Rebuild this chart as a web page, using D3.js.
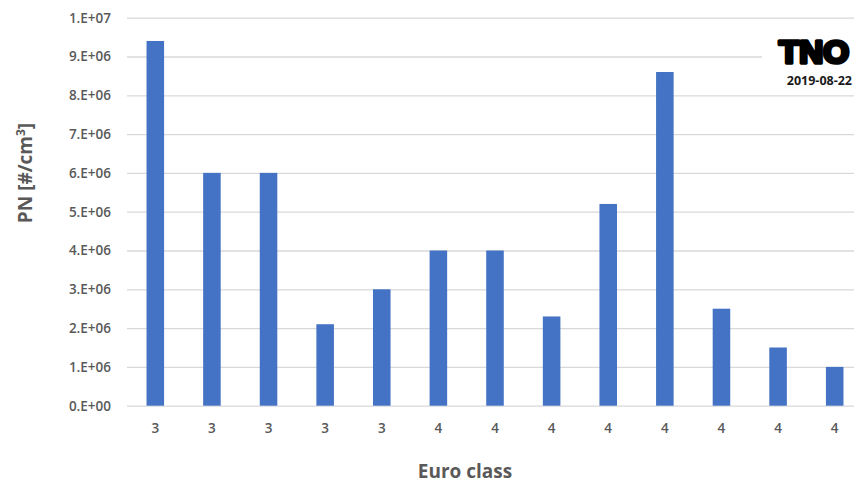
<!DOCTYPE html>
<html>
<head>
<meta charset="utf-8">
<script src="https://cdn.jsdelivr.net/npm/d3@7"></script>
<style>
  html, body { margin: 0; padding: 0; background: #fff; }
  svg { display: block; }
</style>
</head>
<body>
<svg id="chart" width="854" height="483"></svg>
<script>
// Euro class of each measured vehicle and its particle number concentration
const euroClass = ["3", "3", "3", "3", "3", "4", "4", "4", "4", "4", "4", "4", "4"];
const pnValues = [9.4e6, 6.0e6, 6.0e6, 2.1e6, 3.0e6, 4.0e6, 4.0e6, 2.3e6, 5.2e6, 8.6e6, 2.5e6, 1.5e6, 1.0e6];
const yTicks = [0, 1e6, 2e6, 3e6, 4e6, 5e6, 6e6, 7e6, 8e6, 9e6, 1e7];
const yTickLabels = ["0.E+00", "1.E+06", "2.E+06", "3.E+06", "4.E+06", "5.E+06", "6.E+06", "7.E+06", "8.E+06", "9.E+06", "1.E+07"];

const svg = d3.select("#chart");
const W = 854, H = 483;
const textColor = "#595959";
const font = "'Open Sans', 'Liberation Sans', sans-serif";

const x = d3.scaleBand()
  .domain(d3.range(pnValues.length))
  .range([127, 863])
  .paddingInner(0.69)
  .paddingOuter(0.345);

const y = d3.scaleLinear()
  .domain([0, 1e7])
  .range([405.7, 17.7]);

// Gridlines
const grid = svg.append("g")
  .attr("transform", "translate(127,0)")
  .call(d3.axisLeft(y).tickValues(yTicks).tickSize(-(W - 127)).tickFormat(""));
grid.select(".domain").remove();
grid.selectAll(".tick line").attr("stroke", "#d9d9d9").attr("stroke-width", 1.3);

// Y tick labels
const yAxis = svg.append("g")
  .attr("transform", "translate(111,0)")
  .call(d3.axisLeft(y).tickValues(yTicks).tickSize(0)
    .tickFormat((d, i) => yTickLabels[i]));
yAxis.select(".domain").remove();
yAxis.selectAll("text")
  .attr("x", 0)
  .attr("fill", textColor)
  .style("font-family", font)
  .style("font-weight", 600)
  .style("font-size", "13.5px");

// Bars
svg.append("g")
  .selectAll("rect")
  .data(pnValues)
  .join("rect")
  .attr("x", (d, i) => x(i))
  .attr("width", x.bandwidth())
  .attr("y", d => y(d))
  .attr("height", d => y(0) - y(d))
  .attr("fill", "#4472c4");

// X tick labels
const xAxis = svg.append("g")
  .attr("transform", `translate(0,${y(0)})`)
  .call(d3.axisBottom(x).tickSize(0).tickFormat(i => euroClass[i]));
xAxis.select(".domain").remove();
xAxis.selectAll("text")
  .attr("dy", 0)
  .attr("y", 27)
  .attr("fill", textColor)
  .style("font-family", font)
  .style("font-weight", 600)
  .style("font-size", "13.5px");

// Axis titles
svg.append("text")
  .attr("x", 465)
  .attr("y", 478)
  .attr("text-anchor", "middle")
  .attr("fill", textColor)
  .style("font-family", font)
  .style("font-weight", 700)
  .style("font-size", "19px")
  .text("Euro class");

const yTitle = svg.append("text")
  .attr("transform", "translate(32,173) rotate(-90)")
  .attr("text-anchor", "middle")
  .attr("fill", textColor)
  .style("font-family", font)
  .style("font-weight", 700)
  .style("font-size", "19px");
yTitle.append("tspan").text("PN [#/cm");
yTitle.append("tspan").attr("dy", -7).style("font-size", "12px").text("3");
yTitle.append("tspan").attr("dy", 7).text("]");

// Logo block with date stamp
svg.append("rect")
  .attr("x", 762).attr("y", 25)
  .attr("width", W - 762).attr("height", 66)
  .attr("fill", "#fff");

svg.append("text")
  .attr("x", 779)
  .attr("y", 63)
  .attr("textLength", 70)
  .attr("lengthAdjust", "spacingAndGlyphs")
  .attr("fill", "#000")
  .attr("stroke", "#000")
  .attr("stroke-width", 3.6)
  .attr("stroke-linejoin", "round")
  .style("font-family", "'Liberation Sans', Arial, sans-serif")
  .style("font-weight", 700)
  .style("font-size", "31px")
  .text("TNO");

svg.append("text")
  .attr("x", 852)
  .attr("y", 85)
  .attr("text-anchor", "end")
  .attr("fill", "#1a1a1a")
  .style("font-family", font)
  .style("font-weight", 700)
  .style("font-size", "12.5px")
  .text("2019-08-22");
</script>
</body>
</html>
